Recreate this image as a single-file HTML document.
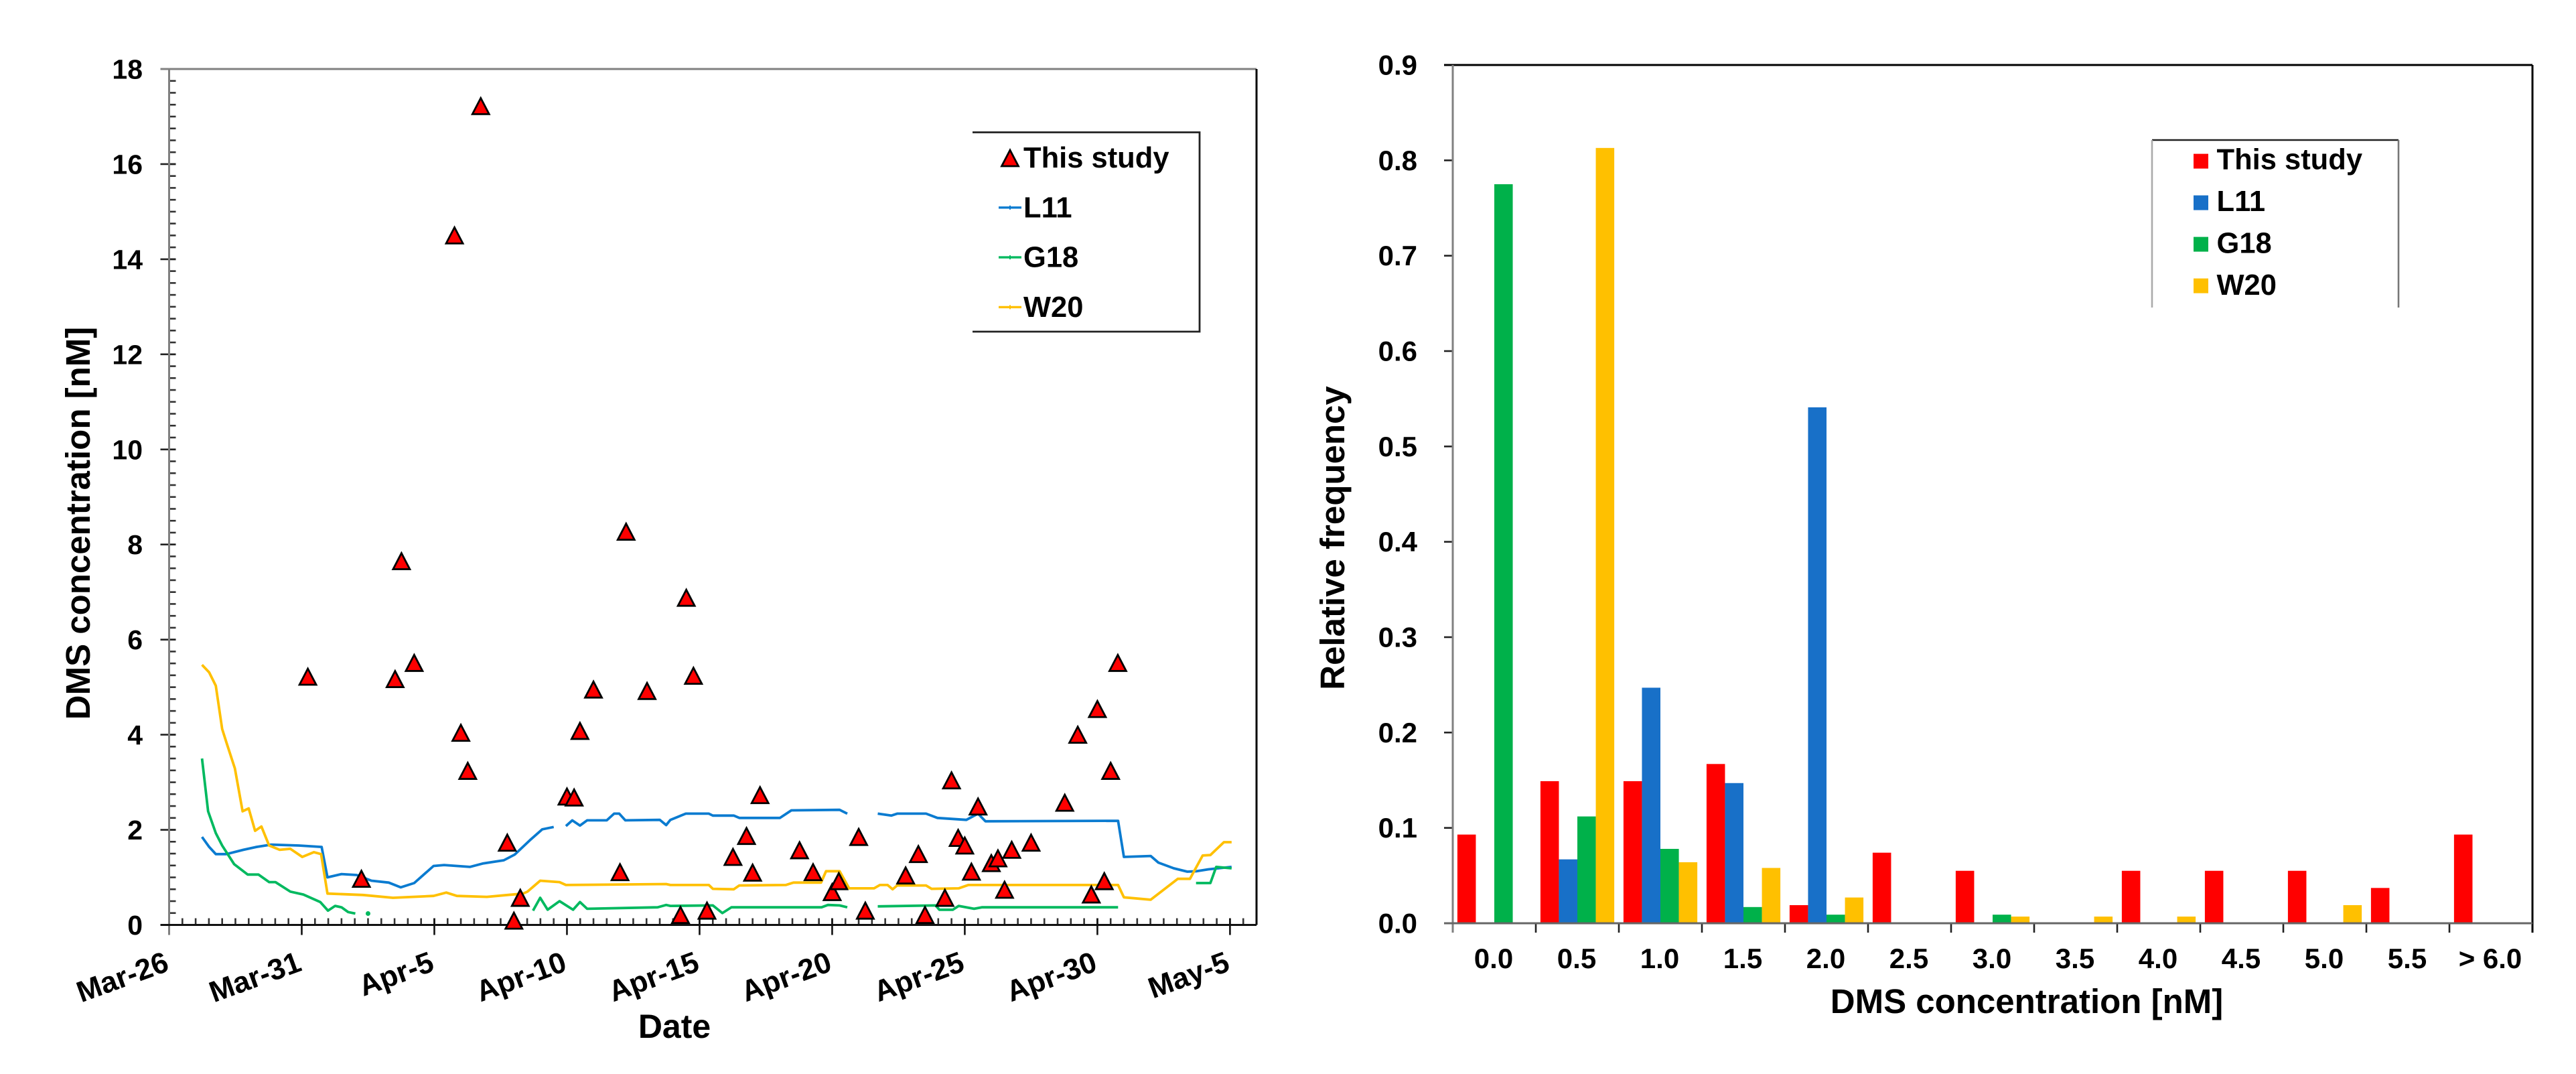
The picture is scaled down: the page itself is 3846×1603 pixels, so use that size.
<!DOCTYPE html>
<html lang="en">
<head>
<meta charset="utf-8">
<title>DMS concentration charts</title>
<style>
html,body{margin:0;padding:0;background:#fff}
svg{display:block}
text{font-family:"Liberation Sans",Arial,sans-serif;font-weight:bold;fill:#000}
</style>
</head>
<body>
<svg id="figure" xmlns="http://www.w3.org/2000/svg" width="3846" height="1603" viewBox="0 0 3846 1603">
  <rect width="3846" height="1603" fill="#fff"/>
  <g id="left-chart"></g>
  <g id="right-chart"></g>
</svg>
<script>
// ---- Time-series data (day = days after Mar-26; null = gap in the line) ----
const dateTickDays = [0, 5, 10, 15, 20, 25, 30, 35, 40];
const dateTickLabels = ['Mar-26', 'Mar-31', 'Apr-5', 'Apr-10', 'Apr-15', 'Apr-20', 'Apr-25', 'Apr-30', 'May-5'];
const concTicks = [0, 2, 4, 6, 8, 10, 12, 14, 16, 18];

const obsDays = [5.23, 7.25, 8.52, 8.76, 9.24, 10.76, 11.75, 11.0, 11.26, 12.75, 13.0, 13.24, 15.0, 15.27, 15.49, 16.0, 17.0, 17.23, 18.02,
  19.5, 19.77, 19.28, 20.28, 21.26, 21.77, 22.0, 22.28, 23.77, 24.28, 25.0, 25.25, 26.0, 26.25, 27.77, 28.25, 28.5, 29.25, 29.5, 29.75, 30.0, 30.25, 30.5, 31.0, 31.25, 31.5, 31.77, 32.5, 33.77, 34.26, 34.77, 35.0, 35.26, 35.5, 35.77];
const obsValues = [5.22, 0.97, 5.17, 7.65, 5.51, 14.5, 17.22, 4.04, 3.24, 1.73, 0.09, 0.57, 2.7, 2.68, 4.08, 4.95, 1.11, 8.27, 4.92,
  6.88, 5.24, 0.21, 0.30, 1.43, 1.87, 1.10, 2.73, 1.57, 1.11, 0.69, 0.92, 1.85, 0.30, 1.04, 1.49, 0.21, 0.57, 3.04, 1.83, 1.67, 1.12, 2.49, 1.3, 1.40, 0.74, 1.58, 1.73, 2.57, 4.0, 0.64, 4.54, 0.92, 3.24, 5.51];

const l11Days = [1.24, 1.51, 1.76, 2.16, 2.8, 3.29, 3.85, 4.9, 5.75, 5.97, 6.5, 7.07, 7.63, 8.28, 8.73, 9.24, 9.97, 10.37, 11.34, 11.82, 12.62, 13.03, 13.6, 14.07, 14.5, null,
  14.96, 15.2, 15.49, 15.76, 16.5, 16.78, 16.97, 17.2, 18.5, 18.74, 18.9, 19.48, 20.35, 20.5, 21.29, 21.5, 23.03, 23.46, 25.28, 25.57, null,
  26.72, 27.23, 27.45, 28.54, 28.97, 30.06, 30.5, 30.78, 35.78, 36.0, 37.01, 37.3, 37.88, 38.39, 38.75, 39.19, 40.06];
const l11Values = [1.85, 1.64, 1.49, 1.49, 1.58, 1.64, 1.69, 1.67, 1.64, 1.0, 1.07, 1.05, 0.93, 0.89, 0.79, 0.88, 1.24, 1.26, 1.22, 1.29, 1.36, 1.48, 1.78, 2.01, 2.06, null,
  2.08, 2.2, 2.09, 2.2, 2.2, 2.34, 2.34, 2.2, 2.21, 2.1, 2.21, 2.34, 2.34, 2.3, 2.3, 2.25, 2.25, 2.41, 2.42, 2.34, null,
  2.34, 2.3, 2.34, 2.34, 2.25, 2.21, 2.34, 2.18, 2.19, 1.43, 1.45, 1.31, 1.19, 1.12, 1.13, 1.17, 1.22];

const g18Days = [1.24, 1.47, 1.76, 2.0, 2.45, 2.96, 3.37, 3.77, 4.01, 4.57, 5.06, 5.7, 5.99, 6.26, 6.5, 6.75, 7.02, null, 7.5, null,
  13.72, 13.99, 14.27, 14.72, 15.23, 15.49, 15.76, 18.42, 18.74, 18.9, 20.5, 20.86, 21.2, 24.6, 24.84, 25.28, 25.57, null,
  26.72, 28.9, 29.04, 29.55, 29.77, 30.35, 30.64, 35.78, null, 38.72, 39.26, 39.48, 40.06];
const g18Values = [3.5, 2.39, 1.93, 1.67, 1.28, 1.06, 1.06, 0.9, 0.9, 0.7, 0.64, 0.48, 0.3, 0.4, 0.37, 0.27, 0.24, null, 0.24, null,
  0.3, 0.57, 0.32, 0.5, 0.32, 0.48, 0.34, 0.37, 0.42, 0.4, 0.41, 0.25, 0.37, 0.37, 0.42, 0.41, 0.37, null,
  0.39, 0.41, 0.32, 0.32, 0.4, 0.34, 0.37, 0.37, null, 0.88, 0.88, 1.22, 1.19];

const w20Days = [1.24, 1.51, 1.76, 2.0, 2.16, 2.48, 2.77, 3.0, 3.24, 3.48, 3.77, 4.17, 4.57, 5.02, 5.46, 5.73, 5.97, 7.31, 8.44, 9.97, 10.45, 10.85, 11.98, 13.35, 13.51, 13.99, 14.72, 14.96, 18.74, 18.9, 20.35, 20.5, 21.29, 21.5, 23.25, 23.54, 24.58, 24.77, 25.28, 25.64, 26.58, 26.8, 27.09, 27.28, 27.45, 28.54, 28.75, 29.77, 30.13, 35.78, 36.0, 37.01, 38.03, 38.49, 38.97, 39.26, 39.77, 40.06];
const w20Values = [5.47, 5.31, 5.03, 4.12, 3.84, 3.29, 2.39, 2.45, 1.98, 2.07, 1.67, 1.58, 1.6, 1.43, 1.53, 1.49, 0.66, 0.63, 0.57, 0.61, 0.68, 0.61, 0.59, 0.66, 0.7, 0.93, 0.9, 0.84, 0.86, 0.84, 0.84, 0.76, 0.75, 0.83, 0.84, 0.89, 0.89, 1.13, 1.13, 0.77, 0.77, 0.84, 0.84, 0.75, 0.83, 0.83, 0.76, 0.77, 0.84, 0.84, 0.58, 0.53, 0.97, 0.97, 1.46, 1.47, 1.74, 1.74];

// ---- Histogram data ----
const binLabels = ['0.0', '0.5', '1.0', '1.5', '2.0', '2.5', '3.0', '3.5', '4.0', '4.5', '5.0', '5.5', '> 6.0'];
const freqTicks = ['0.0', '0.1', '0.2', '0.3', '0.4', '0.5', '0.6', '0.7', '0.8', '0.9'];
const freqThisStudy = [0.093, 0.149, 0.149, 0.167, 0.019, 0.074, 0.055, 0, 0.055, 0.055, 0.055, 0.037, 0.093];
const freqL11 = [0, 0.067, 0.247, 0.147, 0.541, 0, 0, 0, 0, 0, 0, 0, 0];
const freqG18 = [0.775, 0.112, 0.078, 0.017, 0.009, 0, 0.009, 0, 0, 0, 0, 0, 0];
const freqW20 = [0, 0.813, 0.064, 0.058, 0.027, 0, 0.007, 0.007, 0.007, 0, 0.019, 0, 0];

const SVGNS = 'http://www.w3.org/2000/svg';
function mk(parent, tag, attrs, txt) {
  const el = document.createElementNS(SVGNS, tag);
  for (const k in attrs) el.setAttribute(k, attrs[k]);
  if (txt !== undefined) el.textContent = txt;
  parent.appendChild(el);
  return el;
}

// ================= LEFT CHART =================
const L = { x0: 252.5, x1: 1876, y0: 1380.5, y1: 103, dayMax: 41, concMax: 18 };
const xDay = d => L.x0 + d / L.dayMax * (L.x1 - L.x0);
const yConc = v => L.y0 - v / L.concMax * (L.y0 - L.y1);
const left = document.getElementById('left-chart');
const COL_L11 = '#0a7bd0', COL_G18 = '#00b95f', COL_W20 = '#ffc000';

function drawSeries(parent, days, values, color, name) {
  const g = mk(parent, 'g', { fill: 'none', stroke: color, 'stroke-width': 3.8, 'stroke-linejoin': 'round' });
  
  
  let seg = [];
  const flush = () => {
    if (seg.length === 1) {
      mk(g, 'circle', { cx: seg[0][0], cy: seg[0][1], r: 3.5, fill: color, stroke: 'none' });
    } else if (seg.length > 1) {
      mk(g, 'polyline', { points: seg.map(p => p[0].toFixed(1) + ',' + p[1].toFixed(1)).join(' ') });
    }
    seg = [];
  };
  days.forEach((d, i) => {
    if (d === null || values[i] === null) flush();
    else seg.push([xDay(d), yConc(values[i])]);
  });
  flush();
}

function triangle(parent, cx, cy) {
  const d = 'M' + cx + ' ' + (cy - 12) + 'L' + (cx + 12.5) + ' ' + (cy + 12) + 'L' + (cx - 12.5) + ' ' + (cy + 12) + 'Z';
  return mk(parent, 'path', { d: d, fill: '#ff0000', stroke: '#000', 'stroke-width': 2.8 });
}

const leftTicks = mk(left, 'g', { stroke: '#333', 'stroke-width': 2.6 });


for (let v = 0; v <= L.concMax; v += 0.25) {
  mk(leftTicks, 'line', { x1: L.x0, x2: L.x0 + 10, y1: yConc(v), y2: yConc(v) });
}
for (let d = 0; d <= L.dayMax; d += 0.5) {
  mk(leftTicks, 'line', { x1: xDay(d), x2: xDay(d), y1: L.y0 - 10, y2: L.y0 });
}
concTicks.forEach(v => {
  mk(leftTicks, 'line', { x1: L.x0 - 13, x2: L.x0 + 10, y1: yConc(v), y2: yConc(v), stroke: '#222' });
  const t = mk(left, 'text', { x: 213, y: yConc(v) + 14.5, 'font-size': 41, 'text-anchor': 'end' }, String(v));
  
  
});
dateTickDays.forEach((d, i) => {
  mk(leftTicks, 'line', { x1: xDay(d), x2: xDay(d), y1: L.y0 - 10, y2: L.y0 + 15, stroke: '#111' });
  const ax = xDay(d) + 2, ay = 1448;
  const t = mk(left, 'text', { x: ax, y: ay, 'font-size': 44, 'text-anchor': 'end', transform: 'rotate(-20 ' + ax + ' ' + ay + ')' }, dateTickLabels[i]);
  
  
});

const leftFrame = mk(left, 'g', { fill: 'none' });


mk(leftFrame, 'line', { x1: L.x0 - 13, x2: L.x1, y1: L.y1, y2: L.y1, stroke: '#808080', 'stroke-width': 3 });
mk(leftFrame, 'line', { x1: L.x0, x2: L.x0, y1: L.y1, y2: L.y0 + 15, stroke: '#808080', 'stroke-width': 3 });
mk(leftFrame, 'line', { x1: L.x1, x2: L.x1, y1: L.y1, y2: L.y0, stroke: '#000', 'stroke-width': 3 });
mk(leftFrame, 'line', { x1: L.x0 - 13, x2: L.x1, y1: L.y0, y2: L.y0, stroke: '#111', 'stroke-width': 3 });

drawSeries(left, l11Days, l11Values, COL_L11, 'series-l11');
drawSeries(left, g18Days, g18Values, COL_G18, 'series-g18');
drawSeries(left, w20Days, w20Values, COL_W20, 'series-w20');

const obsGroup = mk(left, 'g', {});


obsDays.forEach((d, i) => {
  const tri = triangle(obsGroup, xDay(d), yConc(obsValues[i]));
  
  
});

const yTitleL = mk(left, 'text', { x: 134, y: 781, 'font-size': 51, 'text-anchor': 'middle', transform: 'rotate(-90 134 781)' }, 'DMS concentration [nM]');


const xTitleL = mk(left, 'text', { x: 1007, y: 1549, 'font-size': 50, 'text-anchor': 'middle' }, 'Date');



// left legend
const legL = mk(left, 'g', {});


mk(legL, 'rect', { x: 1452, y: 197.5, width: 339, height: 297.5, fill: '#fff', stroke: 'none' });
mk(legL, 'polyline', { points: '1452,197.5 1791,197.5 1791,495 1452,495', fill: 'none', stroke: '#222', 'stroke-width': 2.8 });
const legTri = triangle(legL, 1508, 236);


const legRowsText = ['This study', 'L11', 'G18', 'W20'];
const legRowsColor = [null, COL_L11, COL_G18, COL_W20];
legRowsText.forEach((label, i) => {
  const base = 250 + i * 74.3;
  const t = mk(legL, 'text', { x: 1528, y: base, 'font-size': 43.5 }, label);
  
  
  if (legRowsColor[i]) {
    const y = base - 14.5;
    const ln = mk(legL, 'line', { x1: 1491, x2: 1525, y1: y, y2: y, stroke: legRowsColor[i], 'stroke-width': 3.4 });
    
    
    mk(legL, 'line', { x1: 1508, x2: 1508, y1: y - 3, y2: y + 3, stroke: legRowsColor[i], 'stroke-width': 2 });
  }
});

// ================= RIGHT CHART =================
const R = { x0: 2169, x1: 3781, y0: 1378, y1: 97, freqMax: 0.9 };
const catW = (R.x1 - R.x0) / binLabels.length;
const barW = catW / 4.5;
const xBin = i => R.x0 + i * catW;
const yFreq = v => R.y0 - v / R.freqMax * (R.y0 - R.y1);
const right = document.getElementById('right-chart');
const barSeries = [
  { name: 'bars-this-study', color: '#ff0000', values: freqThisStudy },
  { name: 'bars-l11', color: '#1870c8', values: freqL11 },
  { name: 'bars-g18', color: '#00b14a', values: freqG18 },
  { name: 'bars-w20', color: '#ffc000', values: freqW20 }
];
barSeries.forEach((s, si) => {
  const g = mk(right, 'g', { fill: s.color });
  
  
  s.values.forEach((v, i) => {
    const r = mk(g, 'rect', { x: xBin(i) + barW * 0.25 + si * barW, y: yFreq(v), width: barW, height: R.y0 - yFreq(v) });
    
    
  });
});

const rightTicks = mk(right, 'g', { stroke: '#222', 'stroke-width': 2.6 });


freqTicks.forEach(label => {
  const y = yFreq(parseFloat(label));
  mk(rightTicks, 'line', { x1: R.x0 - 13, x2: R.x0, y1: y, y2: y });
  const t = mk(right, 'text', { x: 2116, y: y + 14.5, 'font-size': 42, 'text-anchor': 'end' }, label);
  
  
});
for (let i = 0; i <= binLabels.length; i++) {
  mk(rightTicks, 'line', { x1: xBin(i), x2: xBin(i), y1: R.y0, y2: R.y0 + 14 });
}
binLabels.forEach((label, i) => {
  const t = mk(right, 'text', { x: xBin(i) + catW / 2 - 1, y: 1445, 'font-size': 42, 'text-anchor': 'middle' }, label);
  
  
});

const rightFrame = mk(right, 'g', { fill: 'none' });


mk(rightFrame, 'line', { x1: R.x0 - 13, x2: R.x1, y1: R.y1, y2: R.y1, stroke: '#000', 'stroke-width': 3 });
mk(rightFrame, 'line', { x1: R.x0, x2: R.x0, y1: R.y1, y2: R.y0 + 14, stroke: '#808080', 'stroke-width': 3 });
mk(rightFrame, 'line', { x1: R.x1, x2: R.x1, y1: R.y1, y2: R.y0 + 14, stroke: '#000', 'stroke-width': 3 });
mk(rightFrame, 'line', { x1: R.x0 - 13, x2: R.x1, y1: R.y0, y2: R.y0, stroke: '#666', 'stroke-width': 3 });

const yTitleR = mk(right, 'text', { x: 2007, y: 803, 'font-size': 51, 'text-anchor': 'middle', transform: 'rotate(-90 2007 803)' }, 'Relative frequency');


const xTitleR = mk(right, 'text', { x: 3026, y: 1512, 'font-size': 51, 'text-anchor': 'middle' }, 'DMS concentration [nM]');



// right legend
const legR = mk(right, 'g', {});


mk(legR, 'line', { x1: 3213, x2: 3581, y1: 209, y2: 209, stroke: '#222', 'stroke-width': 2.6 });
mk(legR, 'line', { x1: 3213, x2: 3213, y1: 209, y2: 459, stroke: '#aaa', 'stroke-width': 2.6 });
mk(legR, 'line', { x1: 3581, x2: 3581, y1: 209, y2: 459, stroke: '#777', 'stroke-width': 2.6 });
barSeries.forEach((s, i) => {
  const label = legRowsText[i];
  const top = 229.6 + i * 62;
  const sw = mk(legR, 'rect', { x: 3275, y: top, width: 22, height: 22, fill: s.color });
  
  
  const t = mk(legR, 'text', { x: 3309.5, y: 252.5 + i * 62.5, 'font-size': 43.5 }, label);
  
  
});
</script>
</body>
</html>
